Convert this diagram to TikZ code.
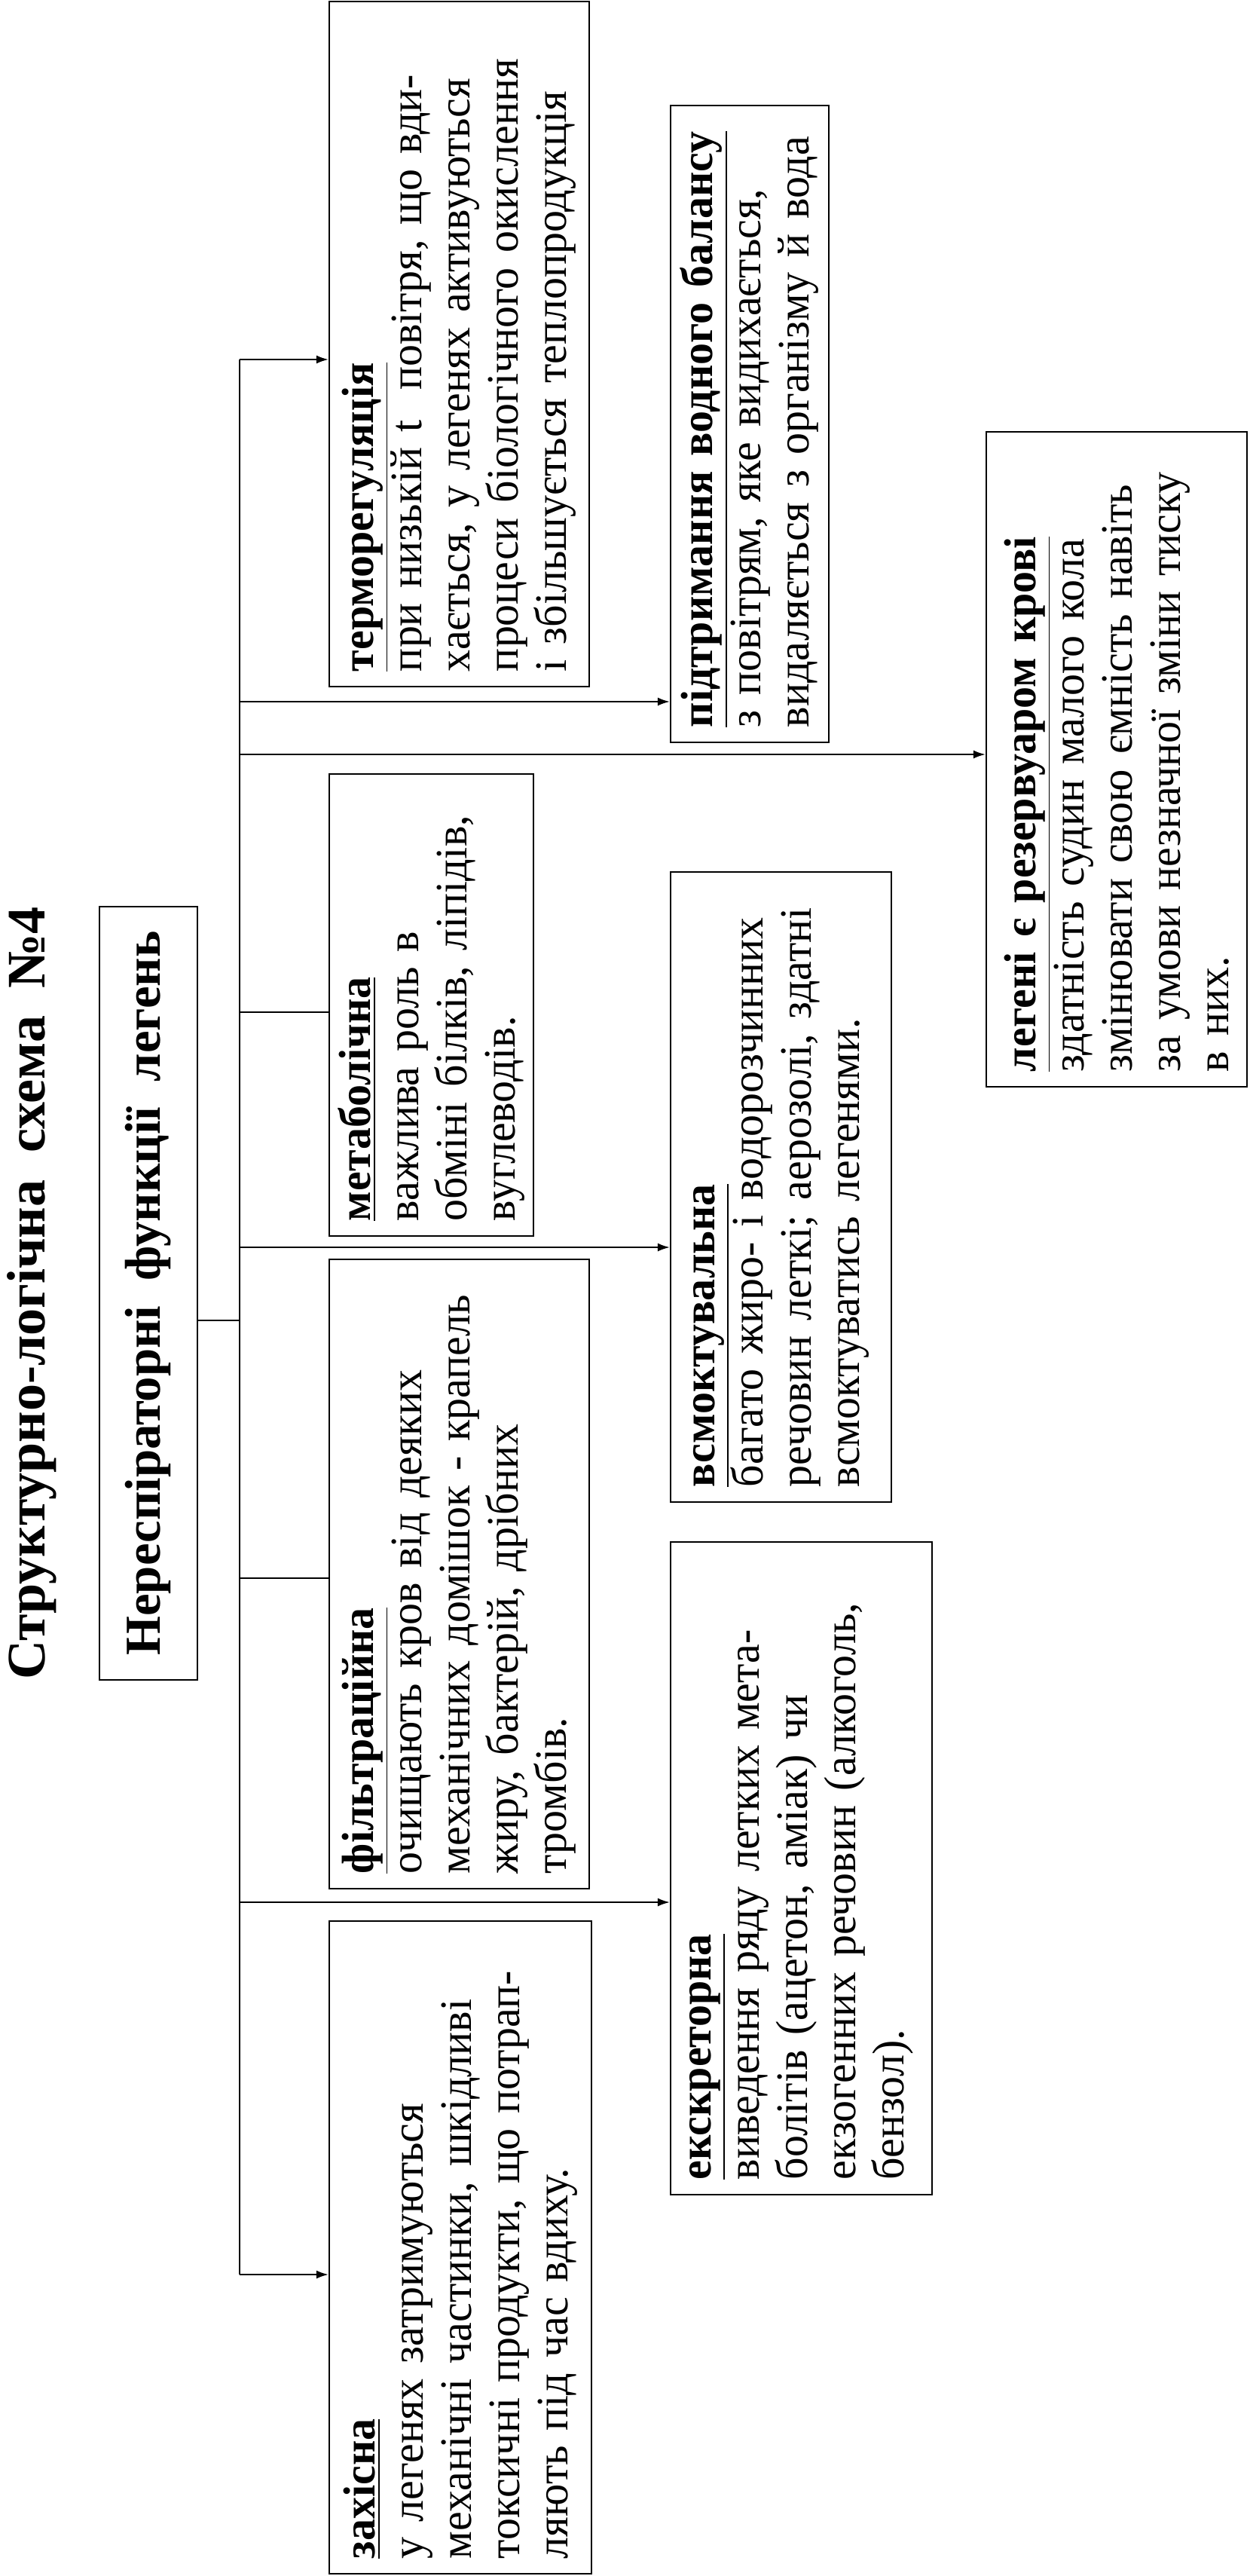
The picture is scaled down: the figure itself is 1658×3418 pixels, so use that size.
\documentclass[tikz,border=0pt]{standalone}
\usepackage{fontspec}
\setmainfont{Liberation Serif}
\newfontfamily\bodyfont[FakeStretch=0.97]{Liberation Serif}
\usetikzlibrary{arrows.meta}
\newcommand{\hd}[1]{\underline{\textbf{#1}}}
\begin{document}
\begin{tikzpicture}[x=0.1mm,y=-0.1mm,
    box/.style={draw,line width=0.6pt,rotate=90,inner xsep=2mm,inner ysep=0pt,
        align=left,font=\bodyfont\fontsize{17}{18.2}\selectfont},
    arr/.style={line width=0.6pt,-{Latex[length=1.6mm,width=1.1mm]}},
    ln/.style={line width=0.6pt}]
    \useasboundingbox[fill=white] (0,0) rectangle (1658,3418);

    % title and main block
    \node[rotate=90,anchor=base,font=\fontsize{20.5}{22}\selectfont\bfseries] (title) at (60,1716)
        {Структурно-логічна\ \ схема\ \ №4};
    \node[draw,line width=0.6pt,rotate=90,minimum width=102.6mm,minimum height=13mm,
        font=\fontsize{19}{22}\selectfont\bfseries] (main) at (197,1716)
        {Нереспіраторні\ \ функції\ \ легень};

    % function blocks
    \node[box,minimum width=90.9mm,minimum height=34.5mm,text width=86.9mm] (thermo) at (609.5,456.5)
        {\hd{терморегуляція}\\
         при низькій t\ \ повітря, що вди-\\
         хається,\ у легенях активуються\\
         процеси біологічного окислення\\
         і збільшується теплопродукція};
    \node[box,minimum width=84.5mm,minimum height=21mm,text width=80.5mm] (water) at (995,562.5)
        {\hd{підтримання водного балансу}\\
         з повітрям,\ яке видихається,\\
         видаляється з організму й вода};
    \node[box,minimum width=86.9mm,minimum height=34.6mm,text width=82.9mm] (reserv) at (1482,1007.5)
        {\hd{легені є резервуаром крові}\\
         здатність судин малого кола\\
         змінювати свою ємність навіть\\
         за умови незначної зміни тиску\\
         в них.};
    \node[box,minimum width=61.3mm,minimum height=27.1mm,text width=57.3mm] (metab) at (572.5,1333.5)
        {\hd{метаболічна}\\
         важлива роль в\\
         обміні білків, ліпідів,\\
         вуглеводів.};
    \node[box,minimum width=83.6mm,minimum height=29.3mm,text width=79.6mm] (absorb) at (1036.5,1575)
        {\hd{всмоктувальна}\\
         багато жиро- і водорозчинних\\
         речовин леткі; аерозолі, здатні\\
         всмоктуватись легенями.};
    \node[box,minimum width=83.5mm,minimum height=34.5mm,text width=79.5mm] (filtr) at (609.5,2088.5)
        {\hd{фільтраційна}\\
         очищають кров від деяких\\
         механічних домішок - крапель\\
         жиру, бактерій, дрібних\\
         тромбів.};
    \node[box,minimum width=86.6mm,minimum height=34.7mm,text width=82.6mm] (excr) at (1063.5,2479)
        {\hd{екскреторна}\\
         виведення ряду летких мета-\\
         болітів (ацетон,\ аміак) чи\\
         екзогенних речовин (алкоголь,\\
         бензол).};
    \node[box,minimum width=86.6mm,minimum height=34.8mm,text width=82.6mm] (prot) at (611,2982)
        {\hd{захісна}\\
         у легенях затримуються\\
         механічні частинки,\ шкідливі\\
         токсичні продукти,\ що потрап-\\
         ляють під час вдиху.};

    % trunk
    \coordinate (t1) at (318,477);
    \coordinate (t2) at (318,931);
    \coordinate (t3) at (318,1001);
    \coordinate (t4) at (318,1343);
    \coordinate (t5) at (318,1655);
    \coordinate (tm) at (318,1752);
    \coordinate (t6) at (318,2094);
    \coordinate (t7) at (318,2524);
    \coordinate (t8) at (318,3018);
    \draw[ln] (t1) -- (t8);
    \draw[ln] (main.south |- tm) -- (tm);

    % branches
    \draw[arr] (t1) -- (t1 -| thermo.north);
    \draw[arr] (t2) -- (t2 -| water.north);
    \draw[arr] (t3) -- (t3 -| reserv.north);
    \draw[ln] (t4) -- (t4 -| metab.north);
    \draw[arr] (t5) -- (t5 -| absorb.north);
    \draw[ln] (t6) -- (t6 -| filtr.north);
    \draw[arr] (t7) -- (t7 -| excr.north);
    \draw[arr] (t8) -- (t8 -| prot.north);
\end{tikzpicture}
\end{document}
